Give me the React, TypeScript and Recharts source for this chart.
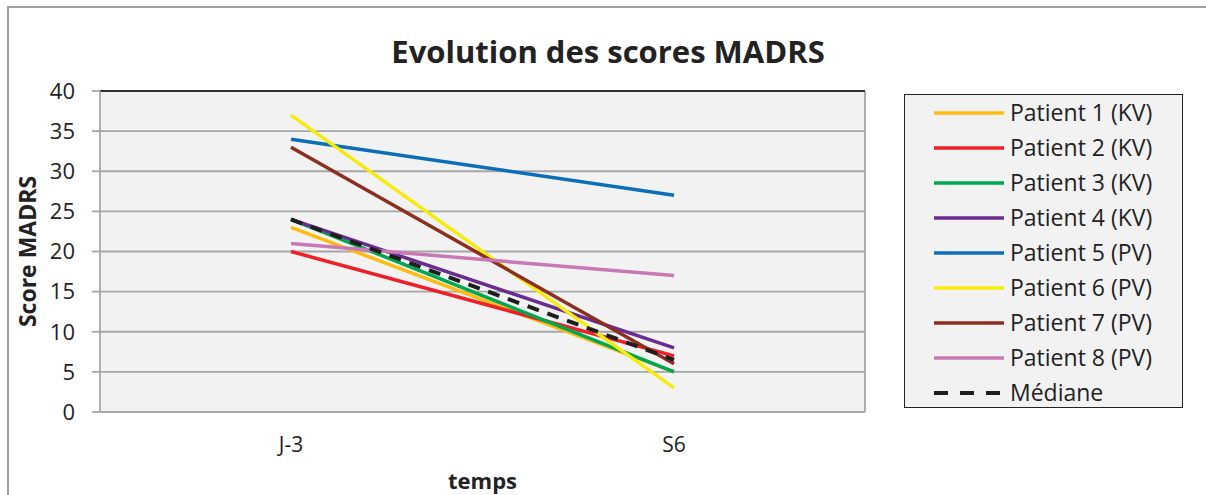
import React from 'react'
import {
  LineChart,
  Line,
  XAxis,
  YAxis,
  CartesianGrid,
  ReferenceLine,
  Label,
} from 'recharts'

const timepoints = ['J-3', 'S6']
const patient1 = [23, 5]
const patient2 = [20, 7]
const patient3 = [24, 5]
const patient4 = [24, 8]
const patient5 = [34, 27]
const patient6 = [37, 3]
const patient7 = [33, 6]
const patient8 = [21, 17]
const mediane = [24, 6.5]
const yTicks = [0, 5, 10, 15, 20, 25, 30, 35, 40]

const FONT = '"Open Sans", Lato, sans-serif'

interface SeriesDef {
  key: string
  name: string
  values: number[]
  color: string
  dashed?: boolean
}

const SERIES: SeriesDef[] = [
  { key: 'p1', name: 'Patient 1 (KV)', values: patient1, color: '#FFBB12' },
  { key: 'p2', name: 'Patient 2 (KV)', values: patient2, color: '#EE1F26' },
  { key: 'p3', name: 'Patient 3 (KV)', values: patient3, color: '#00A84F' },
  { key: 'p4', name: 'Patient 4 (KV)', values: patient4, color: '#6A2C91' },
  { key: 'p5', name: 'Patient 5 (PV)', values: patient5, color: '#0A6EB8' },
  { key: 'p6', name: 'Patient 6 (PV)', values: patient6, color: '#F6EB0C' },
  { key: 'p7', name: 'Patient 7 (PV)', values: patient7, color: '#8C2F1E' },
  { key: 'p8', name: 'Patient 8 (PV)', values: patient8, color: '#C878B6' },
  { key: 'med', name: 'Médiane', values: mediane, color: '#1E1E1E', dashed: true },
]

const data = timepoints.map((t, i) => {
  const row: Record<string, string | number> = { temps: t }
  SERIES.forEach((s) => {
    row[s.key] = s.values[i]
  })
  return row
})

const LegendBox = () => (
  <div
    style={{
      position: 'absolute',
      left: 904,
      top: 94,
      width: 279,
      height: 314,
      background: '#f2f2f2',
      border: '1.5px solid #222',
      boxSizing: 'border-box',
      fontFamily: FONT,
    }}
  >
    {SERIES.map((s) => (
      <div key={s.key} style={{ display: 'flex', alignItems: 'center', height: 35 }}>
        <svg width={72} height={8} style={{ marginLeft: 28, flexShrink: 0 }}>
          <line
            x1={1}
            x2={71}
            y1={4}
            y2={4}
            stroke={s.color}
            strokeWidth={s.dashed ? 4 : 3.5}
            strokeDasharray={s.dashed ? '14 12' : undefined}
          />
        </svg>
        <span
          style={{
            marginLeft: 5,
            fontSize: 23,
            lineHeight: '35px',
            color: '#222',
            whiteSpace: 'nowrap',
          }}
        >
          {s.name}
        </span>
      </div>
    ))}
  </div>
)

export default function App() {
  return (
    <div
      style={{
        position: 'fixed',
        left: 0,
        top: 0,
        width: 1206,
        height: 495,
        background: '#fff',
        overflow: 'hidden',
        fontFamily: FONT,
      }}
    >
      <div
        style={{
          position: 'absolute',
          left: 7,
          top: 6,
          width: 1300,
          height: 600,
          borderLeft: '2px solid #a0a0a0',
          borderTop: '2px solid #a0a0a0',
        }}
      />
      <div
        style={{
          position: 'absolute',
          left: 0,
          width: 1216,
          top: 30,
          textAlign: 'center',
          fontSize: 31,
          fontWeight: 700,
          color: '#222',
          whiteSpace: 'nowrap',
        }}
      >
        Evolution des scores MADRS
      </div>
      <div style={{ position: 'absolute', left: 0, top: 0 }}>
        <LineChart
          width={1206}
          height={495}
          data={data}
          margin={{ top: 91, right: 341, bottom: 53, left: 50 }}
        >
          <CartesianGrid
            fill="#f2f2f2"
            fillOpacity={1}
            stroke="#a6a6a6"
            strokeWidth={1.8}
            vertical
            verticalPoints={[865]}
          />
          <XAxis
            dataKey="temps"
            height={30}
            padding={{ left: 191, right: 191 }}
            tickLine={false}
            tickSize={0}
            tickMargin={25}
            axisLine={{ stroke: '#a6a6a6', strokeWidth: 1.8 }}
            tick={{ fontSize: 21, fill: '#222', fontFamily: FONT }}
          >
            <Label
              value="temps"
              position="insideBottom"
              offset={-47}
              style={{ fontSize: 22, fontWeight: 700, fill: '#222', fontFamily: FONT }}
            />
          </XAxis>
          <YAxis
            width={50}
            domain={[0, 40]}
            ticks={yTicks}
            interval={0}
            tickSize={8}
            tickMargin={17}
            axisLine={{ stroke: '#a6a6a6', strokeWidth: 1.8 }}
            tickLine={{ stroke: '#a6a6a6', strokeWidth: 1.8 }}
            tick={{ fontSize: 22, fill: '#222', fontFamily: FONT }}
          >
            <Label
              value="Score MADRS"
              angle={-90}
              position="insideLeft"
              offset={-22}
              style={{
                fontSize: 23,
                fontWeight: 700,
                fill: '#222',
                fontFamily: FONT,
                textAnchor: 'middle',
              }}
            />
          </YAxis>
          <ReferenceLine y={40} stroke="#333" strokeWidth={2} />
          {SERIES.map((s) => (
            <Line
              key={s.key}
              dataKey={s.key}
              name={s.name}
              type="linear"
              stroke={s.color}
              strokeWidth={s.dashed ? 4 : 3.5}
              strokeDasharray={s.dashed ? '12 9' : undefined}
              dot={false}
              activeDot={false}
              isAnimationActive={false}
            />
          ))}
        </LineChart>
      </div>
      <LegendBox />
    </div>
  )
}
